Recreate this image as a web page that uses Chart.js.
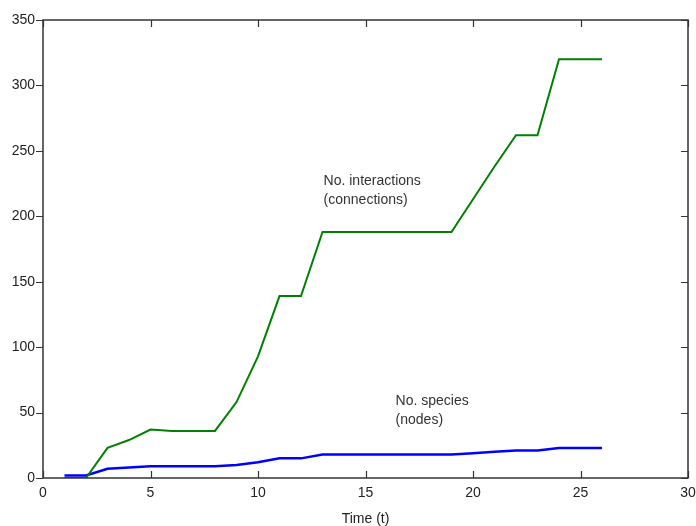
<!DOCTYPE html>
<html>
<head>
<meta charset="utf-8">
<script src="https://cdn.jsdelivr.net/npm/chart.js@4/dist/chart.umd.min.js"></script>
<style>
  html, body { margin: 0; padding: 0; background: #fff; }
  #wrap { width: 696px; height: 526px; position: relative; }
</style>
</head>
<body>
<div id="wrap"><canvas id="c"></canvas></div>
<script>
// time steps and the two series
const timeSteps = [1, 2, 3, 4, 5, 6, 7, 8, 9, 10, 11, 12, 13, 14, 15, 16, 17, 18, 19, 20, 21, 22, 23, 24, 25, 26];
const interactions = [0, 0, 23, 29, 37, 36, 36, 36, 58, 93, 139, 139, 188, 188, 188, 188, 188, 188, 188, 213, 238, 262, 262, 320, 320, 320];
const species = [2, 2, 7, 8, 9, 9, 9, 9, 10, 12, 15, 15, 18, 18, 18, 18, 18, 18, 18, 19, 20, 21, 21, 23, 23, 23];

const xTicks = [0, 5, 10, 15, 20, 25, 30];
const yTicks = [0, 50, 100, 150, 200, 250, 300, 350];

const notes = [
  { x: 13.05, y: 227, lines: ["No. interactions", "(connections)"] },
  { x: 16.4, y: 59, lines: ["No. species", "(nodes)"] }
];

const FONT = "'Liberation Sans', Arial, sans-serif";

// MATLAB style box: frame, inward ticks (left ones outward), text notes
const boxPlugin = {
  id: "box",
  afterDatasetsDraw(chart) {
    const { ctx, chartArea: a, scales: { x, y } } = chart;
    ctx.save();
    ctx.strokeStyle = "#333";
    ctx.lineWidth = 1.5;
    ctx.strokeRect(a.left, a.top, a.right - a.left, a.bottom - a.top);
    ctx.lineWidth = 1.2;
    ctx.beginPath();
    xTicks.forEach(v => {
      const px = Math.round(x.getPixelForValue(v)) + 0.5;
      ctx.moveTo(px, a.bottom); ctx.lineTo(px, a.bottom - 7);
      ctx.moveTo(px, a.top); ctx.lineTo(px, a.top + 7);
    });
    yTicks.forEach(v => {
      const py = Math.round(y.getPixelForValue(v)) + 0.5;
      ctx.moveTo(a.left, py); ctx.lineTo(a.left - 7, py);
      ctx.moveTo(a.right, py); ctx.lineTo(a.right - 7, py);
    });
    ctx.stroke();

    ctx.fillStyle = "#333";
    ctx.font = "14px " + FONT;
    ctx.textBaseline = "middle";
    ctx.textAlign = "left";
    notes.forEach(n => {
      const px = x.getPixelForValue(n.x), py = y.getPixelForValue(n.y);
      n.lines.forEach((t, i) => ctx.fillText(t, px, py + i * 19));
    });
    ctx.restore();
  }
};

new Chart(document.getElementById("c"), {
  type: "line",
  data: {
    datasets: [
      {
        label: "No. interactions",
        data: timeSteps.map((t, i) => ({ x: t, y: interactions[i] })),
        borderColor: "#008000", borderWidth: 2, pointRadius: 0, tension: 0
      },
      {
        label: "No. species",
        data: timeSteps.map((t, i) => ({ x: t, y: species[i] })),
        borderColor: "#0000ff", borderWidth: 2.5, pointRadius: 0, tension: 0
      }
    ]
  },
  options: {
    responsive: true, maintainAspectRatio: false, animation: false,
    layout: { padding: { top: 20, right: 8, left: 0, bottom: 0 } },
    plugins: { legend: { display: false }, tooltip: { enabled: false } },
    scales: {
      x: {
        type: "linear", min: 0, max: 30,
        grid: { display: false, drawTicks: false },
        border: { display: false },
        afterBuildTicks: s => { s.ticks = xTicks.map(v => ({ value: v })); },
        afterFit: s => { s.height = 48; s.paddingLeft = 0; s.paddingRight = 0; },
        ticks: { color: "#222", padding: 7, font: { family: FONT, size: 14 } },
        title: { display: true, text: "Time (t)", color: "#222", padding: { top: 0, bottom: -2 }, font: { family: FONT, size: 14 } }
      },
      y: {
        min: 0, max: 350,
        grid: { display: false, drawTicks: false },
        border: { display: false },
        afterBuildTicks: s => { s.ticks = yTicks.map(v => ({ value: v })); },
        afterFit: s => { s.width = 43; },
        ticks: { color: "#222", padding: 8, font: { family: FONT, size: 14 } }
      }
    }
  },
  plugins: [boxPlugin]
});
</script>
</body>
</html>
